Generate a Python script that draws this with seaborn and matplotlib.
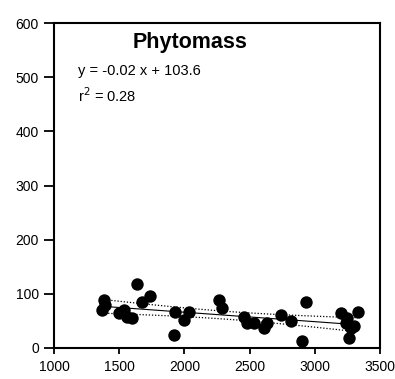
import numpy as np
import pandas as pd
import seaborn as sns
from matplotlib import pyplot

# values
elevation = [1367, 1380, 1390, 1495, 1533, 1556, 1597, 1636, 1674, 1733,
             1918, 1931, 1995, 2033, 2264, 2290, 2456, 2482, 2533, 2610,
             2636, 2738, 2815, 2905, 2931, 3200, 3238, 3250, 3264, 3277,
             3302, 3328]
phytomass = [70, 89, 80, 64, 70, 58, 55, 119, 85, 95,
             24, 67, 52, 67, 89, 73, 58, 46, 46, 36,
             46, 61, 49, 12, 85, 64, 46, 55, 18, 36,
             40, 67]
x_ticks = [1000, 1500, 2000, 2500, 3000, 3500]
y_ticks = [0, 100, 200, 300, 400, 500, 600]

df = pd.DataFrame({"elevation": elevation, "phytomass": phytomass})

sns.set_style("ticks")
pyplot.rcParams['font.family'] = ['Liberation Sans', 'DejaVu Sans']
pyplot.rcParams['text.color'] = 'black'
pyplot.rcParams['xtick.color'] = 'black'
pyplot.rcParams['ytick.color'] = 'black'

fig = pyplot.figure(figsize=(3.95, 3.79), dpi=100)
ax = fig.add_axes([0.137, 0.082, 0.825, 0.857])

sns.regplot(x="elevation", y="phytomass", data=df, ci=None, ax=ax,
            scatter_kws={"s": 80, "color": "black", "linewidths": 0, "alpha": 1},
            line_kws={"color": "black", "lw": 0.8})

# 95% confidence band as dotted lines
x = df["elevation"].to_numpy(float)
y = df["phytomass"].to_numpy(float)
b, a = np.polyfit(x, y, 1)
resid = y - (a + b * x)
n = len(x)
s = np.sqrt((resid ** 2).sum() / (n - 2))
xs = np.linspace(x.min(), x.max(), 100)
se = s * np.sqrt(1 / n + (xs - x.mean()) ** 2 / ((x - x.mean()) ** 2).sum())
fit = a + b * xs
ax.plot(xs, fit + 2.04 * se, color="black", lw=0.9, linestyle=(0, (1, 1.5)))
ax.plot(xs, fit - 2.04 * se, color="black", lw=0.9, linestyle=(0, (1, 1.5)))

ax.set_xlim(1000, 3500)
ax.set_ylim(0, 600)
ax.set_xticks(x_ticks)
ax.set_yticks(y_ticks)
ax.tick_params(labelsize=10, width=1.3, direction="out")
ax.tick_params(axis="x", length=4, pad=5)
ax.tick_params(axis="y", length=7, pad=4)
ax.set_xlabel("")
ax.set_ylabel("")
for sp in ax.spines.values():
    sp.set_linewidth(1.5)
    sp.set_color("black")

ax.text(0.242, 0.923, "Phytomass", transform=ax.transAxes, ha="left",
        va="baseline", fontsize=15.5, fontweight="bold")
ax.text(0.074, 0.84, "y = -0.02 x + 103.6", transform=ax.transAxes,
        ha="left", va="baseline", fontsize=10.5)
ax.text(0.074, 0.757, "r$^2$ = 0.28", transform=ax.transAxes,
        ha="left", va="baseline", fontsize=10.5)

pyplot.savefig("out.png", dpi=100)
